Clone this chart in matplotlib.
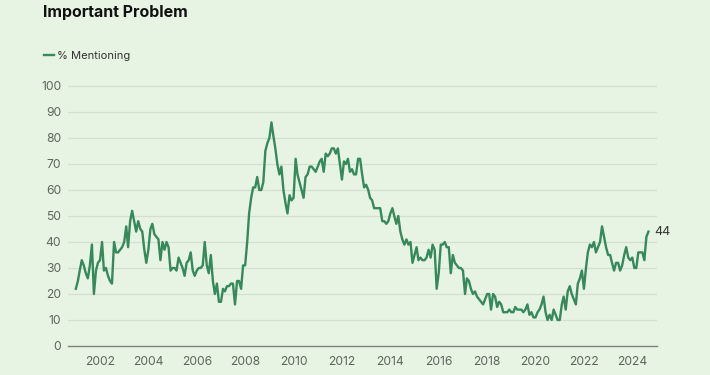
import numpy as np
import pandas as pd
import matplotlib
matplotlib.use('Agg')
import matplotlib.pyplot as plt
import matplotlib.dates as mdates
from datetime import datetime

plt.rcParams['font.family'] = ['Inter', 'DejaVu Sans']

# monthly % mentioning (Jan 2001 .. Sep 2024)
y2001 = [22, 25, 29, 33, 31, 28, 26, 31, 39, 20, 29, 32]
y2002 = [33, 40, 29, 30, 27, 25, 24, 40, 36, 36, 37, 38]
y2003 = [40, 46, 38, 48, 52, 48, 44, 48, 45, 44, 37, 32]
y2004 = [37, 45, 47, 43, 42, 41, 33, 40, 37, 40, 38, 29]
y2005 = [30, 30, 29, 34, 32, 30, 27, 32, 33, 36, 29, 27]
y2006 = [29, 30, 30, 31, 40, 31, 28, 35, 25, 20, 24, 17]
y2007 = [17, 22, 21, 23, 23, 24, 24, 16, 25, 25, 22, 31]
y2008 = [31, 40, 51, 57, 61, 61, 65, 60, 60, 63, 75, 78]
y2009 = [80, 86, 81, 76, 70, 66, 69, 60, 55, 51, 58, 56]
y2010 = [57, 72, 66, 63, 60, 57, 65, 66, 69, 69, 68, 67]
y2011 = [69, 71, 72, 67, 74, 73, 74, 76, 76, 74, 76, 70]
y2012 = [64, 71, 70, 72, 67, 68, 66, 66, 72, 72, 66, 61]
y2013 = [62, 60, 57, 56, 53, 53, 53, 53, 48, 48, 47, 48]
y2014 = [51, 53, 50, 47, 50, 44, 41, 39, 41, 39, 40, 32]
y2015 = [35, 38, 33, 34, 33, 33, 34, 37, 34, 39, 37, 22]
y2016 = [28, 39, 39, 40, 38, 38, 28, 35, 32, 31, 30, 30]
y2017 = [29, 20, 26, 25, 22, 20, 21, 19, 18, 17, 16, 18]
y2018 = [20, 20, 14, 20, 19, 15, 17, 16, 13, 13, 13, 14]
y2019 = [13, 13, 15, 14, 14, 14, 13, 14, 16, 12, 13, 11]
y2020 = [11, 13, 14, 16, 19, 13, 10, 12, 10, 14, 12, 10]
y2021 = [10, 16, 19, 14, 21, 23, 20, 18, 16, 24, 26, 29]
y2022 = [22, 30, 36, 39, 38, 40, 36, 38, 40, 46, 42, 38]
y2023 = [35, 35, 32, 29, 32, 32, 29, 31, 35, 38, 34, 33]
y2024 = [34, 30, 30, 36, 36, 36, 33, 42, 44]

series_name = '% Mentioning'
title = 'Important Problem'
year_ticks = list(range(2002, 2025, 2))

values = (y2001 + y2002 + y2003 + y2004 + y2005 + y2006 + y2007 + y2008 +
          y2009 + y2010 + y2011 + y2012 + y2013 + y2014 + y2015 + y2016 +
          y2017 + y2018 + y2019 + y2020 + y2021 + y2022 + y2023 + y2024)
dates = pd.date_range('2001-01-01', periods=len(values), freq='MS')

bg = '#e7f3e3'
green = '#35895a'

fig = plt.figure(figsize=(7.1, 3.75), dpi=100, facecolor=bg)
ax = fig.add_axes([68 / 710, 1 - 346 / 375, (657 - 68) / 710, (346 - 83.4) / 375])
ax.set_facecolor(bg)

line, = ax.plot(dates, values, color=green, lw=1.7, label=series_name)

ax.set_ylim(0, 101)
ax.set_yticks(range(0, 101, 10))
ax.set_xlim(datetime(2000, 9, 5), datetime(2025, 1, 8))
ax.set_xticks([datetime(y, 1, 1) for y in year_ticks])
ax.xaxis.set_major_formatter(mdates.DateFormatter('%Y'))

ax.grid(axis='y', color='#d3dfd0', lw=0.9)
ax.set_axisbelow(True)
for s in ['top', 'right', 'left']:
    ax.spines[s].set_visible(False)
ax.spines['bottom'].set_color('#7d857b')
ax.spines['bottom'].set_linewidth(1.0)
ax.tick_params(axis='both', length=0, labelsize=8.7, labelcolor='#5f665e')
ax.tick_params(axis='y', pad=5)
ax.tick_params(axis='x', pad=7)

# end label
ax.annotate(str(values[-1]), (dates[-1], values[-1]), xytext=(4, 0),
            textcoords='offset points', va='center', ha='left',
            fontsize=9, color='#333333')

fig.text(43 / 710, 1 - 12 / 375, title, fontsize=11.5, fontweight='bold',
         color='#111111', va='center', ha='left')
fig.legend(handles=[line], loc='center left', bbox_to_anchor=(34 / 710, 1 - 56 / 375),
           frameon=False, handlelength=0.9, handletextpad=0.25, fontsize=8,
           labelcolor='#333333')

fig.savefig('out.png', dpi=100, facecolor=bg)
